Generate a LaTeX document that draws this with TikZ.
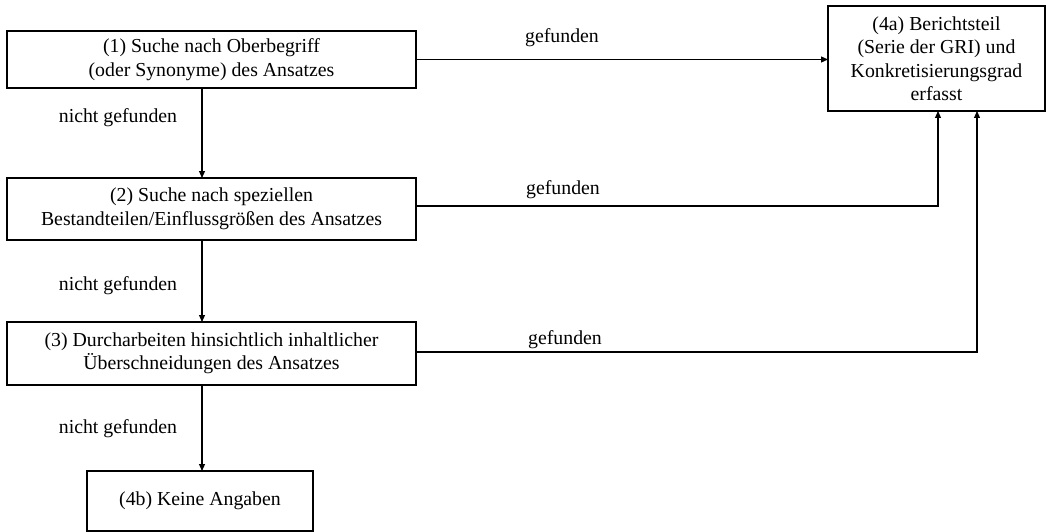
\documentclass[tikz,border=0pt]{standalone}
\usepackage{fontspec}
\setmainfont{Liberation Serif}
\usetikzlibrary{arrows.meta}
\begin{document}
\begin{tikzpicture}[x=1pt,y=-1pt,
  font=\fontsize{19.8}{23.5}\selectfont,
  box/.style={draw=black, line width=1.2pt, align=center, inner sep=0pt, outer sep=0pt},
  arr/.style={draw=black, line width=1.1pt, -{Triangle[length=7pt,width=6pt]}},
  lbl/.style={inner sep=0pt}
]
\useasboundingbox (0,0) rectangle (1046,532);

\node[box, minimum width=409pt, minimum height=57pt] (b1) at (211.5,59.5)
  {(1) Suche nach Oberbegriff\\(oder Synonyme) des Ansatzes};
\node[box, minimum width=409pt, minimum height=62pt] (b2) at (211.5,209)
  {(2) Suche nach speziellen\\Bestandteilen/Einflussgrößen des Ansatzes};
\node[box, minimum width=409pt, minimum height=63pt] (b3) at (211.5,353.5)
  {(3) Durcharbeiten hinsichtlich inhaltlicher\\Überschneidungen des Ansatzes};
\node[box, minimum width=226pt, minimum height=60pt] (b4b) at (200,501)
  {(4b) Keine Angaben};
\node[box, minimum width=217pt, minimum height=105pt] (b4a) at (936.5,58.5)
  {(4a) Berichtsteil\\(Serie der GRI) und\\Konkretisierungsgrad\\erfasst};

\coordinate (cx) at (202,0);
\coordinate (k2) at (938,206);
\coordinate (k3) at (977,352);

\draw[arr] (b1.east) -- (b1.east -| b4a.west);
\draw[arr] (b2.east |- k2) -- (k2) -- (k2 |- b4a.south);
\draw[arr] (b3.east |- k3) -- (k3) -- (k3 |- b4a.south);

\draw[arr] (cx |- b1.south) -- (cx |- b2.north);
\draw[arr] (cx |- b2.south) -- (cx |- b3.north);
\draw[arr] (cx |- b3.south) -- (cx |- b4b.north);

\node[lbl] (g1) at (562,38) {gefunden};
\node[lbl] (g2) at (563,190) {gefunden};
\node[lbl] (g3) at (565,340) {gefunden};

\node[lbl] (n1) at (118,118) {nicht gefunden};
\node[lbl] (n2) at (118,286) {nicht gefunden};
\node[lbl] (n3) at (118,429) {nicht gefunden};
\end{tikzpicture}
\end{document}
